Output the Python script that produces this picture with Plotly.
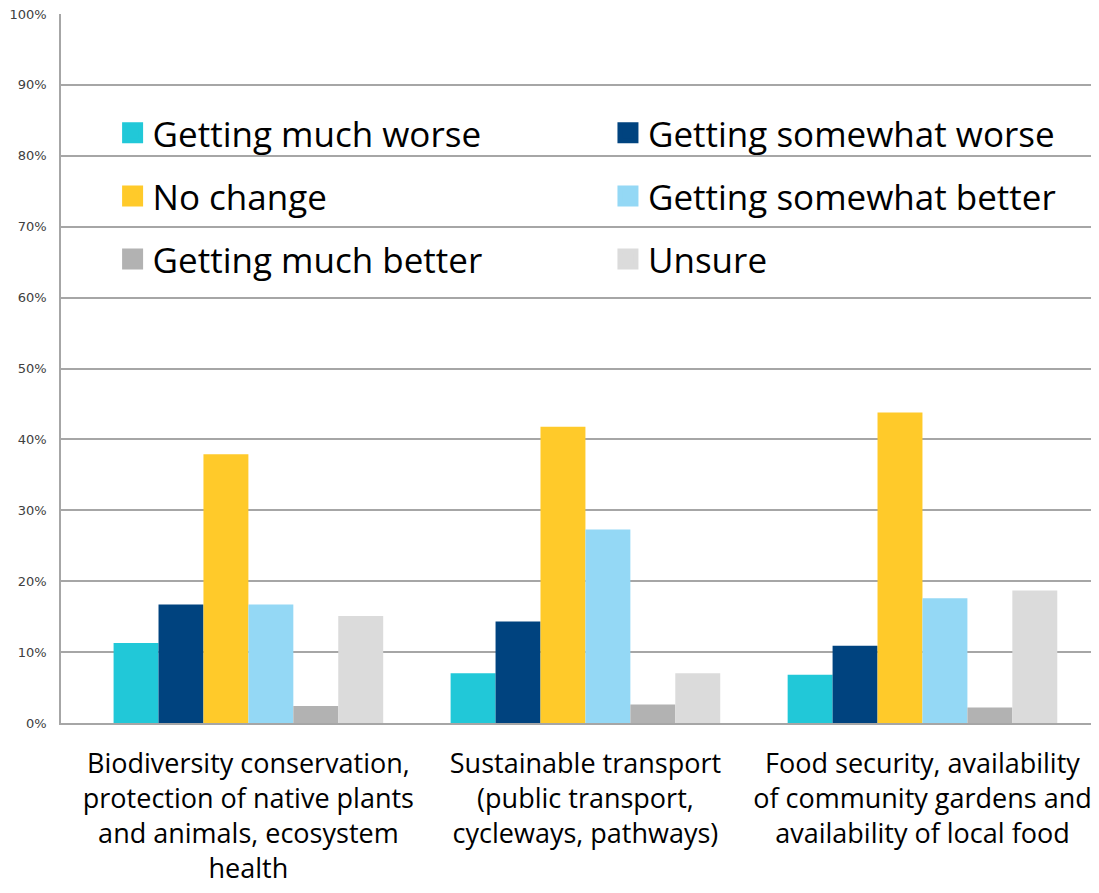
import plotly.graph_objects as go

categories = [
    "Biodiversity conservation,<br>protection of native plants<br>and animals, ecosystem<br>health",
    "Sustainable transport<br>(public transport,<br>cycleways, pathways)",
    "Food security, availability<br>of community gardens and<br>availability of local food",
]
series_names = [
    "Getting much worse",
    "Getting somewhat worse",
    "No change",
    "Getting somewhat better",
    "Getting much better",
    "Unsure",
]
much_worse = [11.3, 7.0, 6.8]
somewhat_worse = [16.7, 14.3, 10.9]
no_change = [37.9, 41.8, 43.8]
somewhat_better = [16.7, 27.3, 17.6]
much_better = [2.4, 2.6, 2.2]
unsure = [15.1, 7.0, 18.7]
series_values = [much_worse, somewhat_worse, no_change, somewhat_better, much_better, unsure]
colors = ["#21C8D8", "#00437F", "#FFCA2A", "#94D8F5", "#B2B2B2", "#DBDBDB"]

y_tickvals = list(range(0, 101, 10))
y_ticktext = [f"{v}%" for v in y_tickvals]

legend_ids = ["legend", "legend2", "legend3", "legend4", "legend5", "legend6"]
legend_x = [0.050, 0.530, 0.050, 0.530, 0.050, 0.530]
legend_y = [0.832, 0.832, 0.743, 0.743, 0.654, 0.654]

fig = go.Figure()
for name, vals, col in zip(series_names, series_values, colors):
    fig.add_trace(go.Bar(
        x=[0, 1, 2], y=vals, name=name, marker_color=col,
        marker_line_width=0, showlegend=False,
    ))
# legend keys (larger square swatches than the default bar key)
for name, col, lg in zip(series_names, colors, legend_ids):
    fig.add_trace(go.Scatter(
        x=[None], y=[None], mode="markers", name=name, legend=lg,
        marker=dict(symbol="square", size=16, color=col, line=dict(color=col, width=5)),
    ))

legend_layout = {}
for lg, lx, ly in zip(legend_ids, legend_x, legend_y):
    legend_layout[lg] = dict(
        orientation="v", xref="paper", yref="paper", xanchor="left", yanchor="middle",
        x=lx, y=ly, bgcolor="rgba(255,255,255,0)", borderwidth=0,
        itemsizing="trace",
        font=dict(family="Open Sans", size=35, color="#000000"),
    )

# page body adds an 8px offset; plot area in the page spans x 61..1093, y 14..723
fig.update_layout(
    width=1091, height=885,
    margin=dict(l=53, r=6, t=6, b=170, autoexpand=False),
    paper_bgcolor="white", plot_bgcolor="white",
    barmode="group", bargap=0.2, bargroupgap=0,
    showlegend=True,
    xaxis=dict(
        tickmode="array", tickvals=[0, 1, 2], ticktext=categories,
        range=[-0.556, 2.506], showgrid=False, zeroline=False,
        showline=True, linecolor="#A6A6A6", linewidth=1.5, ticks="",
        tickfont=dict(family="Open Sans", size=27, color="#000000"),
        ticklabelstandoff=16, automargin=False,
    ),
    yaxis=dict(
        range=[0, 100], tickmode="array", tickvals=y_tickvals, ticktext=y_ticktext,
        showgrid=True, gridcolor="#A6A6A6", gridwidth=1.5, zeroline=False,
        showline=True, linecolor="#A6A6A6", linewidth=1.5, ticks="",
        tickfont=dict(family="DejaVu Sans", size=13, color="#404040"),
        ticklabelstandoff=10, ticklabeloverflow="allow", automargin=False,
    ),
    shapes=[dict(
        type="rect", xref="paper", yref="y", x0=0.034, x1=0.992, y0=61.5, y1=88,
        fillcolor="white", line_width=0, layer="between",
    )],
    **legend_layout,
)

fig.write_html("out.html")
